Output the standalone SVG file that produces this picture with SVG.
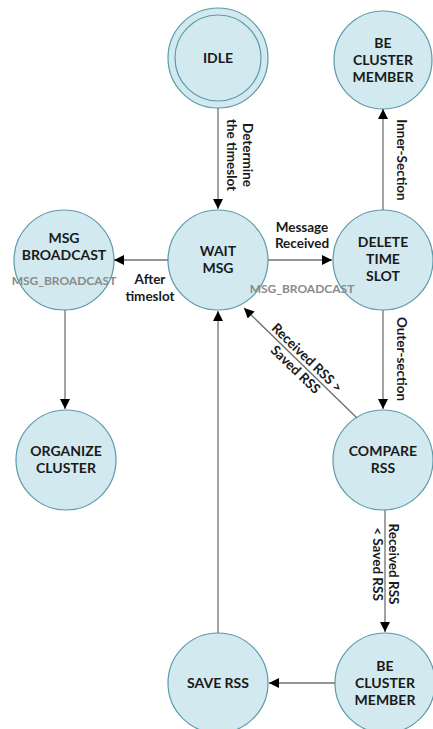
<svg xmlns="http://www.w3.org/2000/svg" width="433" height="729" viewBox="0 0 433 729">
<defs>
<marker id="arr" viewBox="0 0 10 10" refX="10" refY="5" markerWidth="10" markerHeight="10" markerUnits="userSpaceOnUse" orient="auto">
<path d="M0,0 L10,5 L0,10 Z" fill="#000"/>
</marker>
</defs>
<style>
.n{fill:#d2e9ef;stroke:#5b9aa9;stroke-width:1.2}
.t{font-family:Lato,"Open Sans",sans-serif;font-weight:700;font-size:14px;fill:#1a1a1a;text-anchor:middle}
.e{stroke:#707070;stroke-width:1.3;fill:none;marker-end:url(#arr)}
.l{font-family:Lato,"Open Sans",sans-serif;font-weight:700;font-size:13.5px;fill:#1a1a1a;text-anchor:middle}
.g{font-family:Lato,"Open Sans",sans-serif;font-weight:700;font-size:12px;fill:#8a8a8a;text-anchor:middle}
</style>
<rect width="433" height="729" fill="#fff"/>
<g id="idle">
<circle class="n" cx="218" cy="58" r="50"/>
<circle cx="218" cy="58" r="43" fill="none" stroke="#5b9aa9" stroke-width="1.2"/>
<text class="t" x="218" y="63">IDLE</text>
</g>
<g id="be-cluster-member-top">
<circle class="n" cx="383" cy="60" r="49"/>
<text class="t"><tspan x="383" y="48">BE</tspan><tspan x="383" y="65">CLUSTER</tspan><tspan x="383" y="82">MEMBER</tspan></text>
</g>
<g id="msg-broadcast">
<circle class="n" cx="64" cy="260" r="50"/>
<text class="t"><tspan x="64" y="243">MSG</tspan><tspan x="64" y="260">BROADCAST</tspan></text>
<text class="g" x="64" y="285">MSG_BROADCAST</text>
</g>
<g id="wait-msg">
<circle class="n" cx="218" cy="260" r="50"/>
<text class="t"><tspan x="218" y="256">WAIT</tspan><tspan x="218" y="273">MSG</tspan></text>
</g>
<g id="delete-time-slot">
<circle class="n" cx="383" cy="260" r="50"/>
<text class="t"><tspan x="383" y="247">DELETE</tspan><tspan x="383" y="264">TIME</tspan><tspan x="383" y="281">SLOT</tspan></text>
</g>
<g id="organize-cluster">
<circle class="n" cx="66" cy="460" r="50"/>
<text class="t"><tspan x="66" y="456">ORGANIZE</tspan><tspan x="66" y="473">CLUSTER</tspan></text>
</g>
<g id="compare-rss">
<circle class="n" cx="383" cy="460" r="50"/>
<text class="t"><tspan x="383" y="456">COMPARE</tspan><tspan x="383" y="473">RSS</tspan></text>
</g>
<g id="save-rss">
<circle class="n" cx="218" cy="683" r="50"/>
<text class="t" x="218" y="688">SAVE RSS</text>
</g>
<g id="be-cluster-member-bottom">
<circle class="n" cx="385" cy="683" r="50"/>
<text class="t"><tspan x="385" y="671">BE</tspan><tspan x="385" y="688">CLUSTER</tspan><tspan x="385" y="705">MEMBER</tspan></text>
</g>
<g id="connectors">
<line class="e" x1="218" y1="108" x2="218" y2="209"/>
<line class="e" x1="383" y1="210" x2="383" y2="109"/>
<line class="e" x1="168" y1="260" x2="114" y2="260"/>
<line class="e" x1="268" y1="260" x2="332" y2="260"/>
<line class="e" x1="383" y1="310" x2="383" y2="409"/>
<line class="e" x1="357" y1="418" x2="244" y2="308"/>
<line class="e" x1="65" y1="310" x2="65" y2="409"/>
<line class="e" x1="385" y1="510" x2="385" y2="632"/>
<line class="e" x1="335" y1="683" x2="269" y2="683"/>
<line class="e" x1="218" y1="633" x2="218" y2="311"/>
<text class="l" transform="translate(240,155) rotate(90)"><tspan x="0" y="-3">Determine</tspan><tspan x="0" y="13.5">the timeslot</tspan></text>
<text class="l" transform="translate(397,160) rotate(90)" x="0" y="0">Inner-Section</text>
<text class="l" transform="translate(397,359) rotate(90)" x="0" y="0">Outer-section</text>
<text class="l"><tspan x="302" y="231.5">Message</tspan><tspan x="302" y="248">Received</tspan></text>
<text class="l"><tspan x="150" y="284">After</tspan><tspan x="150" y="300.5">timeslot</tspan></text>
<text class="g" x="302" y="293">MSG_BROADCAST</text>
<text class="l" transform="translate(301,364) rotate(44)"><tspan x="0" y="-4">Received RSS &gt;</tspan><tspan x="0" y="12.5">Saved RSS</tspan></text>
<text class="l" transform="translate(385,564) rotate(90)"><tspan x="0" y="-4">Received RSS</tspan><tspan x="0" y="12.5">&lt; Saved RSS</tspan></text>
</g>
</svg>
